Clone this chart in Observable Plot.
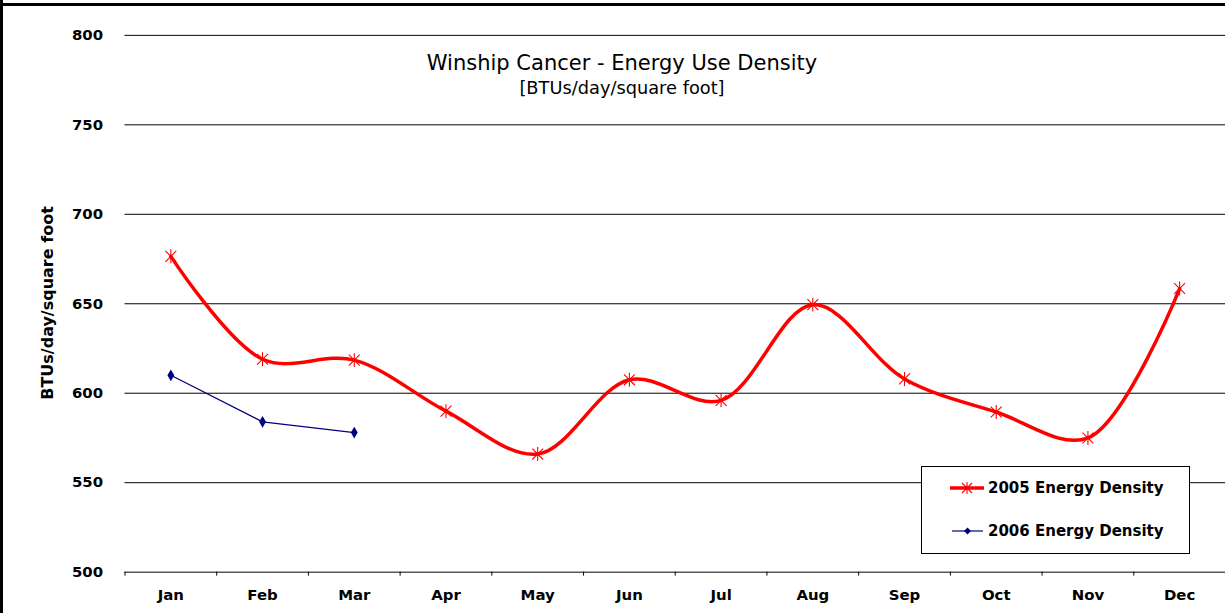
<!DOCTYPE html>
<html><head><meta charset="utf-8">
<script src="https://cdn.jsdelivr.net/npm/d3@7"></script>
<script src="https://cdn.jsdelivr.net/npm/@observablehq/plot@0.6"></script>
<style>
html,body{margin:0;padding:0;background:#fff;overflow:hidden;}
#wrap{position:relative;width:1225px;height:613px;overflow:hidden;font-family:"DejaVu Sans",sans-serif;color:#000;}
#chart{position:absolute;left:0;top:0;}
.bl{position:absolute;left:0;top:0;width:3px;height:613px;background:#000;}
.bt{position:absolute;left:0;top:3px;width:1225px;height:3px;background:#000;}
.title{position:absolute;left:622px;top:51px;transform:translateX(-50%);font-size:21px;white-space:nowrap;line-height:24px;}
.subtitle{position:absolute;left:622px;top:79px;transform:translateX(-50%);font-size:17.8px;white-space:nowrap;line-height:18px;}
.ylab{position:absolute;left:47px;top:303px;transform:translate(-50%,-50%) rotate(-90deg);font-size:16px;font-weight:bold;white-space:nowrap;}
.legend{position:absolute;left:921px;top:466px;width:267px;height:86px;border:1px solid #000;background:#fff;}
.legend .item{position:absolute;left:28px;display:flex;align-items:center;font-size:15px;font-weight:bold;white-space:nowrap;line-height:18px;}
.legend svg{margin-right:4px;}
</style></head><body>
<div id="wrap">
<div id="chart"></div>
<div class="title">Winship Cancer - Energy Use Density</div>
<div class="subtitle">[BTUs/day/square foot]</div>
<div class="ylab">BTUs/day/square foot</div>
<div class="legend" id="legend"></div>
<div class="bl"></div><div class="bt"></div>
</div>
<script>
const months = ["Jan","Feb","Mar","Apr","May","Jun","Jul","Aug","Sep","Oct","Nov","Dec"];
const energy2005 = [676.5, 619, 618.5, 590, 566, 607.5, 596, 649.5, 608, 589.5, 575, 658.5];
const months2006 = ["Jan","Feb","Mar"];
const energy2006 = [610, 584, 578];
const yTicks = [500, 550, 600, 650, 700, 750, 800];
const seriesNames = ["2005 Energy Density", "2006 Energy Density"];

const red = "#FF0000", navy = "#000080";

const data2005 = months.map((m, i) => ({x: months.indexOf(m) + 0.5, y: energy2005[i]}));
const data2006 = months2006.map((m, i) => ({x: months.indexOf(m) + 0.5, y: energy2006[i]}));

const starSymbol = {
  draw(ctx, size) {
    const r = Math.sqrt(size / Math.PI);
    const d = r * 0.78;
    ctx.moveTo(-d, -d); ctx.lineTo(d, d);
    ctx.moveTo(-d, d); ctx.lineTo(d, -d);
    ctx.moveTo(0, -r); ctx.lineTo(0, r);
  }
};

const chart = Plot.plot({
  width: 1230,
  height: 613,
  marginLeft: 125,
  marginRight: 0,
  marginTop: 35,
  marginBottom: 39,
  style: {fontFamily: "'DejaVu Sans', sans-serif", fontSize: "15px", fontWeight: "bold", background: "transparent", overflow: "visible"},
  x: {type: "linear", domain: [0, months.length]},
  y: {domain: [500, 800]},
  marks: [
    Plot.ruleY(yTicks, {stroke: "#000", strokeWidth: 1}),
    Plot.axisY({ticks: yTicks, tickSize: 0, tickPadding: 22, label: null, fill: "#000", fontSize: 15, fontWeight: "bold"}),
    Plot.axisX({ticks: d3.range(0, months.length + 1), tickSize: 4, stroke: "#000", tickFormat: () => "", label: null}),
    Plot.axisX({ticks: months.map((m, i) => i + 0.5), tickSize: 0, tickPadding: 17, tickFormat: v => months[Math.floor(v)], label: null, fill: "#000", fontSize: 15, fontWeight: "bold"}),
    Plot.line(data2006, {x: "x", y: "y", stroke: navy, strokeWidth: 1.2}),
    Plot.dot(data2006, {x: "x", y: "y", symbol: "diamond", r: 3.6, fill: navy, stroke: null}),
    Plot.line(data2005, {x: "x", y: "y", stroke: red, strokeWidth: 3.5, curve: "catmull-rom"}),
    Plot.dot(data2005, {x: "x", y: "y", symbol: starSymbol, r: 7, stroke: red, strokeWidth: 1.1, fill: "none"})
  ]
});
document.getElementById("chart").appendChild(chart);

// legend
const legend = document.getElementById("legend");
const sw = [
  `<svg width="34" height="12"><line x1="0" y1="6" x2="34" y2="6" stroke="${red}" stroke-width="3.5"/><path d="M12,1 L22,11 M12,11 L22,1 M17,0 L17,12" stroke="${red}" stroke-width="1.1"/></svg>`,
  `<svg width="34" height="12"><line x1="2" y1="6" x2="33" y2="6" stroke="${navy}" stroke-width="1.2"/><path d="M17.5,2.5 L21,6 L17.5,9.5 L14,6 Z" fill="${navy}"/></svg>`
];
seriesNames.forEach((name, i) => {
  const d = document.createElement("div");
  d.className = "item";
  d.style.top = (i === 0 ? 12 : 55) + "px";
  d.innerHTML = sw[i] + `<span>${name}</span>`;
  legend.appendChild(d);
});
</script>
</body></html>
